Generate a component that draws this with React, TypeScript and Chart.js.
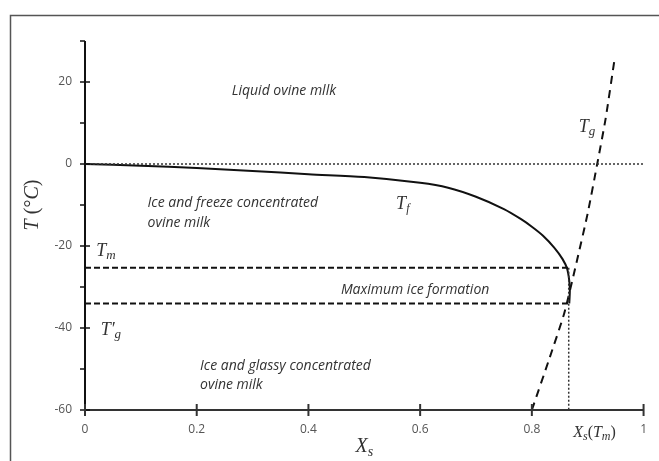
import React, { useEffect, useRef } from "react";
import { Chart, registerables } from "chart.js";

Chart.register(...registerables);

// Freezing curve T_f
const tfX = [0, 0.1, 0.2, 0.3, 0.4, 0.5, 0.6, 0.65, 0.7, 0.75, 0.78, 0.8, 0.82, 0.84, 0.855, 0.863, 0.867, 0.868, 0.867];
const tfT = [0, -0.4, -1.0, -1.7, -2.5, -3.2, -4.6, -5.8, -8.0, -11.0, -13.4, -15.3, -17.5, -20.4, -23.2, -25.5, -28.5, -31.0, -34.0];
// Glass transition curve T_g
const tgX = [0.8, 0.83, 0.858, 0.88, 0.9, 0.917, 0.932, 0.948];
const tgT = [-60, -48, -36.4, -24, -12, 0, 11, 25.5];
// Characteristic values
const tmValue = -25.3;
const tgPrimeValue = -34;
const xsTmValue = 0.866;
// Ticks
const xTicks = [0, 0.2, 0.4, 0.6, 0.8, 1];
const yTicks = [-60, -40, -20, 0, 20];
const yMinorTicks = [-50, -30, -10, 10, 30];

const TEXT = "#333";
const SANS_IT = 'italic 14px "Open Sans"';
const SERIF = '"Liberation Serif"';

type Seg = { t: string; f: string; dy?: number };

function drawRich(ctx: CanvasRenderingContext2D, x: number, y: number, segs: Seg[], align: "left" | "center") {
  let total = 0;
  for (const s of segs) {
    ctx.font = s.f;
    total += ctx.measureText(s.t).width;
  }
  let cx = align === "center" ? x - total / 2 : x;
  ctx.textAlign = "left";
  ctx.textBaseline = "middle";
  for (const s of segs) {
    ctx.font = s.f;
    ctx.fillText(s.t, cx, y + (s.dy || 0));
    cx += ctx.measureText(s.t).width;
  }
}

const big = (size: number) => `italic ${size}px ${SERIF}`;
const reg = (size: number) => `${size}px ${SERIF}`;

const decorPlugin = {
  id: "decor",
  afterDraw(chart: any) {
    const ctx: CanvasRenderingContext2D = chart.ctx;
    const xs = chart.scales.x;
    const ys = chart.scales.y;
    const px = (v: number) => xs.getPixelForValue(v);
    const py = (v: number) => ys.getPixelForValue(v);
    ctx.save();

    // outer frame
    ctx.strokeStyle = "#555";
    ctx.lineWidth = 1.5;
    ctx.beginPath();
    ctx.moveTo(10.5, 461);
    ctx.lineTo(10.5, 15.5);
    ctx.lineTo(659, 15.5);
    ctx.stroke();

    // axes
    const x0 = px(0);
    const yb = py(-60);
    ctx.strokeStyle = "#111";
    ctx.lineWidth = 2;
    ctx.beginPath();
    ctx.moveTo(x0, py(30));
    ctx.lineTo(x0, yb);
    ctx.stroke();
    ctx.strokeStyle = "#333";
    ctx.beginPath();
    ctx.moveTo(x0, yb);
    ctx.lineTo(px(1), yb);
    ctx.stroke();

    ctx.lineWidth = 1.5;
    ctx.strokeStyle = "#111";
    for (const v of yTicks) {
      ctx.beginPath();
      ctx.moveTo(x0 - 5, py(v));
      ctx.lineTo(x0 + 5, py(v));
      ctx.stroke();
    }
    for (const v of yMinorTicks) {
      ctx.beginPath();
      ctx.moveTo(x0 - 5, py(v));
      ctx.lineTo(x0, py(v));
      ctx.stroke();
    }
    ctx.strokeStyle = "#333";
    ctx.lineWidth = 2;
    for (const v of xTicks) {
      ctx.beginPath();
      ctx.moveTo(px(v), yb - 6);
      ctx.lineTo(px(v), yb + 6);
      ctx.stroke();
    }

    // region texts
    ctx.fillStyle = TEXT;
    ctx.font = SANS_IT;
    ctx.textBaseline = "middle";
    ctx.textAlign = "center";
    ctx.fillText("Liquid ovine mllk", px(0.356), py(17.7));
    ctx.fillText("Maximum ice formation", px(0.591), py(-30.7));
    ctx.textAlign = "left";
    ctx.fillText("Ice and freeze concentrated", px(0.112), py(-9.4));
    ctx.fillText("ovine milk", px(0.112), py(-14.3));
    ctx.fillText("Ice and glassy concentrated", px(0.206), py(-49.3));
    ctx.fillText("ovine milk", px(0.206), py(-53.9));

    // math labels
    drawRich(ctx, px(0.557), py(-9.9), [{ t: "T", f: big(18) }, { t: "f", f: big(12), dy: 4 }], "left");
    drawRich(ctx, px(0.02), py(-21.4), [{ t: "T", f: big(18) }, { t: "m", f: big(13), dy: 4 }], "left");
    drawRich(ctx, px(0.028), py(-40.5), [{ t: "T\u2032", f: big(18) }, { t: "g", f: big(13), dy: 5 }], "left");
    drawRich(ctx, px(0.884), py(8.9), [{ t: "T", f: big(18) }, { t: "g", f: big(13), dy: 4 }], "left");
    drawRich(
      ctx,
      px(0.874),
      yb + 23,
      [
        { t: "X", f: big(16) },
        { t: "s", f: big(12), dy: 4 },
        { t: "(", f: reg(16) },
        { t: "T", f: big(16) },
        { t: "m", f: big(12), dy: 4 },
        { t: ")", f: reg(16) },
      ],
      "left"
    );
    // axis titles
    drawRich(ctx, px(0.5), yb + 37, [{ t: "X", f: big(20) }, { t: "s", f: big(14), dy: 5 }], "center");
    ctx.save();
    ctx.translate(33, py(-10));
    ctx.rotate(-Math.PI / 2);
    drawRich(
      ctx,
      0,
      0,
      [
        { t: "T", f: big(20) },
        { t: " (\u00B0", f: reg(20) },
        { t: "C", f: big(20) },
        { t: ")", f: reg(20) },
      ],
      "center"
    );
    ctx.restore();
    ctx.restore();
  },
};

export default function App() {
  const ref = useRef<HTMLCanvasElement>(null);
  useEffect(() => {
    if (!ref.current) return;
    const pts = (xa: number[], ya: number[]) => xa.map((x, i) => ({ x, y: ya[i] }));
    const chart = new Chart(ref.current, {
      type: "scatter",
      data: {
        datasets: [
          {
            data: [{ x: 0, y: 0 }, { x: 1, y: 0 }],
            showLine: true,
            borderColor: "#333",
            borderWidth: 1.5,
            borderDash: [2, 2],
            pointRadius: 0,
          },
          {
            data: [{ x: 0, y: tmValue }, { x: xsTmValue, y: tmValue }],
            showLine: true,
            borderColor: "#111",
            borderWidth: 2,
            borderDash: [6, 3],
            pointRadius: 0,
          },
          {
            data: [{ x: 0, y: tgPrimeValue }, { x: xsTmValue, y: tgPrimeValue }],
            showLine: true,
            borderColor: "#111",
            borderWidth: 2,
            borderDash: [6, 3],
            pointRadius: 0,
          },
          {
            data: [{ x: xsTmValue, y: tmValue }, { x: xsTmValue, y: -60 }],
            showLine: true,
            borderColor: "#333",
            borderWidth: 1.5,
            borderDash: [2, 2],
            pointRadius: 0,
          },
          {
            data: pts(tfX, tfT),
            showLine: true,
            borderColor: "#111",
            borderWidth: 2,
            tension: 0.3,
            pointRadius: 0,
          },
          {
            data: pts(tgX, tgT),
            showLine: true,
            borderColor: "#111",
            borderWidth: 2,
            borderDash: [8, 6],
            tension: 0.2,
            pointRadius: 0,
          },
        ],
      },
      options: {
        animation: false,
        responsive: false,
        maintainAspectRatio: false,
        layout: { padding: { top: 41, right: 12, left: 0, bottom: 0 } },
        plugins: { legend: { display: false }, tooltip: { enabled: false } },
        scales: {
          x: {
            type: "linear",
            min: 0,
            max: 1,
            grid: { display: false, drawTicks: false },
            border: { display: false },
            ticks: {
              padding: 12,
              color: "#555",
              font: { family: '"Open Sans"', size: 12 },
              callback: (v: any) => String(v),
            },
            afterBuildTicks: (s: any) => {
              s.ticks = xTicks.map((v) => ({ value: v }));
            },
            afterFit: (s: any) => {
              s.height = 51;
            },
          },
          y: {
            type: "linear",
            min: -60,
            max: 30,
            grid: { display: false, drawTicks: false },
            border: { display: false },
            ticks: {
              padding: 13,
              color: "#555",
              font: { family: '"Open Sans"', size: 12 },
              callback: (v: any) => String(v),
            },
            afterBuildTicks: (s: any) => {
              s.ticks = yTicks.map((v) => ({ value: v }));
            },
            afterFit: (s: any) => {
              s.width = 85;
            },
          },
        },
      },
      plugins: [decorPlugin],
    } as any);
    return () => chart.destroy();
  }, []);
  return (
    <div style={{ position: "absolute", left: 0, top: 0, width: 659, height: 461, background: "#fff" }}>
      <canvas ref={ref} width={659} height={461} style={{ display: "block" }} />
    </div>
  );
}
